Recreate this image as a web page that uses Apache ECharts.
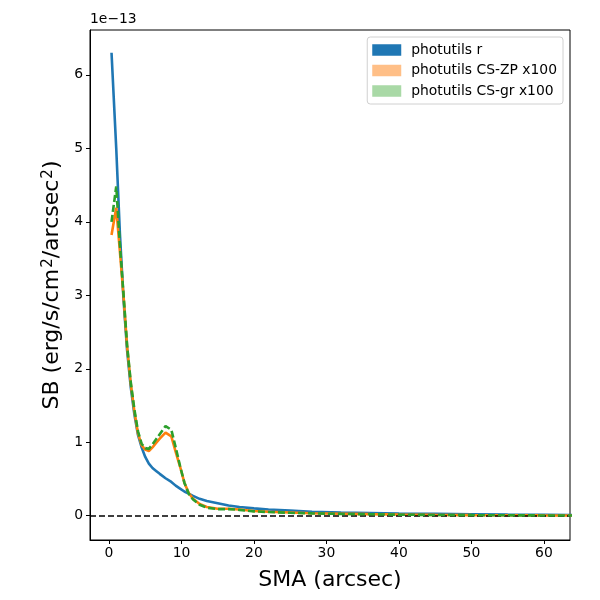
<!DOCTYPE html>
<html>
<head>
<meta charset="utf-8">
<script src="https://cdn.jsdelivr.net/npm/echarts@6/dist/echarts.min.js"></script>
<style>
  html, body { margin: 0; padding: 0; background: #fff; }
  #chart { width: 600px; height: 600px; }
</style>
</head>
<body>
<div id="chart"></div>
<script>
// SMA (arcsec) 采样点
var sma = [0.35, 1.0, 1.5, 2.0, 2.5, 3.0, 3.5, 4.0, 4.5, 5.0, 5.5, 6.0, 6.5, 7.0, 7.8,
  8.6, 9.2, 9.8, 10.4, 11.0, 11.6, 12.5, 13.5, 15, 16.5, 18, 20, 22, 25, 28, 32,
  36, 40, 45, 50, 55, 60, 64];

// 表面亮度，单位 1e-13
var sbR = [6.30, 5.00, 3.85, 2.95, 2.25, 1.75, 1.38, 1.10, 0.93, 0.80, 0.71, 0.65, 0.61, 0.57, 0.51,
  0.46, 0.41, 0.37, 0.33, 0.30, 0.27, 0.23, 0.20, 0.17, 0.14, 0.12, 0.10, 0.085, 0.07, 0.055, 0.045,
  0.038, 0.03, 0.025, 0.02, 0.016, 0.013, 0.011];
var sbZP = [3.82, 4.19, 3.60, 3.00, 2.30, 1.80, 1.42, 1.12, 0.96, 0.90, 0.88, 0.93, 0.99, 1.05, 1.13,
  1.08, 0.87, 0.67, 0.45, 0.31, 0.23, 0.16, 0.12, 0.095, 0.095, 0.085, 0.065, 0.055, 0.045, 0.035, 0.028,
  0.022, 0.017, 0.012, 0.009, 0.007, 0.005, 0.004];
var sbGR = [4.00, 4.48, 3.70, 3.02, 2.32, 1.82, 1.45, 1.15, 0.98, 0.92, 0.91, 0.97, 1.04, 1.11, 1.22,
  1.17, 0.93, 0.68, 0.45, 0.30, 0.22, 0.15, 0.11, 0.09, 0.09, 0.08, 0.06, 0.05, 0.04, 0.032, 0.025,
  0.02, 0.015, 0.01, 0.008, 0.006, 0.004, 0.003];

var xTicks = [0, 10, 20, 30, 40, 50, 60];
var yTicks = [0, 1, 2, 3, 4, 5, 6];

var legendNames = ['photutils r', 'photutils CS-ZP x100', 'photutils CS-gr x100'];

function pairs(xs, ys) {
  return xs.map(function (x, i) { return [x, ys[i]]; });
}

var chart = echarts.init(document.getElementById('chart'));
var font = 'DejaVu Sans';

var option = {
  animation: false,
  backgroundColor: '#fff',
  grid: {
    left: 90, right: 30, top: 30, bottom: 60,
    show: true, borderColor: '#000', borderWidth: 1
  },
  graphic: [{
    type: 'text', left: 90, top: 12,
    style: { text: '1e\u221213', font: '13.9px "DejaVu Sans"', fill: '#000' }
  }],
  legend: {
    orient: 'vertical', right: 37, top: 37,
    padding: [6, 6, 6, 5],
    itemWidth: 29, itemHeight: 11.5, itemGap: 6.5,
    borderColor: '#d0d0d0', borderWidth: 1, borderRadius: 3,
    backgroundColor: 'rgba(255,255,255,0.8)',
    textStyle: { fontFamily: font, fontSize: 13.9, color: '#000', padding: [0, 0, 0, 5] },
    data: [
      { name: legendNames[0], icon: 'rect', itemStyle: { color: '#1f77b4' } },
      { name: legendNames[1], icon: 'rect', itemStyle: { color: '#ffbf87' } },
      { name: legendNames[2], icon: 'rect', itemStyle: { color: '#a9d9a6' } }
    ]
  },
  xAxis: {
    type: 'value', min: -2.62, max: 63.6,
    name: 'SMA (arcsec)', nameLocation: 'middle', nameGap: 29,
    nameTextStyle: { fontFamily: font, fontSize: 22, color: '#000' },
    splitLine: { show: false },
    axisLine: { onZero: false, lineStyle: { color: '#000', width: 1 } },
    axisTick: { show: true, length: 4, customValues: xTicks, lineStyle: { color: '#000' } },
    axisLabel: { customValues: xTicks, fontFamily: font, fontSize: 13.9, color: '#000', margin: 6 }
  },
  yAxis: {
    type: 'value', min: -0.33, max: 6.61,
    name: 'SB (erg/s/cm{sup|2}/arcsec{sup|2})', nameLocation: 'middle', nameGap: 26,
    nameTextStyle: {
      fontFamily: font, fontSize: 22, color: '#000',
      rich: { sup: { fontFamily: font, fontSize: 15, color: '#000', verticalAlign: 'top', padding: [0, 0, 8, 1] } }
    },
    splitLine: { show: false },
    axisLine: { onZero: false, lineStyle: { color: '#000', width: 1 } },
    axisTick: { show: true, length: 4, customValues: yTicks, lineStyle: { color: '#000' } },
    axisLabel: { customValues: yTicks, fontFamily: font, fontSize: 13.9, color: '#000', margin: 7, verticalAlign: 'middle', padding: [6, 0, 0, 0] }
  },
  series: [
    {
      name: legendNames[0], type: 'line', data: pairs(sma, sbR),
      showSymbol: false, z: 3,
      lineStyle: { color: '#1f77b4', width: 2.6 }, itemStyle: { color: '#1f77b4' },
      markLine: {
        silent: true, symbol: 'none', label: { show: false },
        lineStyle: { color: '#000', width: 1.6, type: [6, 3] },
        data: [{ yAxis: 0 }]
      }
    },
    {
      name: legendNames[1], type: 'line', data: pairs(sma, sbZP),
      showSymbol: false, z: 4,
      lineStyle: { color: '#ff7f0e', width: 2.6 }, itemStyle: { color: '#ff7f0e' }
    },
    {
      name: legendNames[2], type: 'line', data: pairs(sma, sbGR),
      showSymbol: false, z: 5,
      lineStyle: { color: '#2ca02c', width: 2.6, type: [7, 3] }, itemStyle: { color: '#2ca02c' }
    }
  ]
};

chart.setOption(option);
</script>
</body>
</html>
